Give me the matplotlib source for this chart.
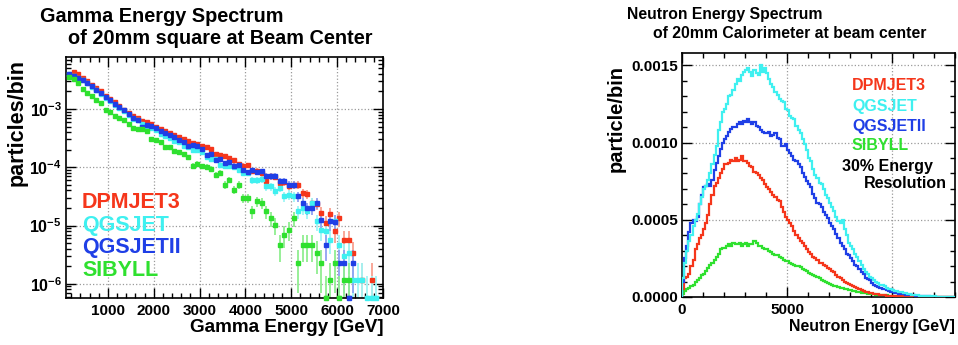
import numpy as np
import matplotlib
matplotlib.use("Agg")
import matplotlib.pyplot as plt
from matplotlib.ticker import FixedLocator, MultipleLocator, FixedFormatter

plt.rcParams['font.family'] = ['Liberation Sans', 'DejaVu Sans']
plt.rcParams['font.weight'] = 'bold'
plt.rcParams['mathtext.fontset'] = 'custom'
plt.rcParams['mathtext.rm'] = 'Liberation Sans:bold'
plt.rcParams['mathtext.bf'] = 'Liberation Sans:bold'

nan = np.nan
BOT = 5.7e-7   # bins drawn on the bottom frame

modelos = ['DPMJET3', 'QGSJET', 'QGSJETII', 'SIBYLL']
colores = ['#f5361b', '#3ff0f0', '#1f3fe6', '#2fe02f']
colores_err = ['#f9a090', '#a0f6f6', '#90a0f2', '#90ee90']

# ---- gamma spectrum (100 GeV bins, centres 150 .. 6850) ----
e_gamma = list(range(150, 6900, 100))

gamma_dpmjet3 = [nan, 4.27e-3, 3.94e-3, 3.45e-3, 2.99e-3, 2.62e-3, 2.30e-3, 2.01e-3, 1.69e-3, 1.49e-3,
                 1.30e-3, 1.11e-3, 9.74e-4, 8.54e-4, 7.49e-4, 7.00e-4, 6.31e-4, 5.90e-4, 5.52e-4, 4.91e-4,
                 4.54e-4, 4.13e-4, 3.92e-4, 3.62e-4, 3.31e-4, 3.05e-4, 2.82e-4, 2.61e-4, 2.54e-4, 2.29e-4,
                 2.23e-4, 2.08e-4, 1.71e-4, 1.60e-4, 1.54e-4, 1.44e-4, 1.31e-4, 1.14e-4, 1.06e-4, 1.09e-4,
                 8.51e-5, 8.73e-5, 7.96e-5, 5.73e-5, 6.98e-5, 6.79e-5, 5.36e-5, 5.51e-5, 4.70e-5, 5.02e-5,
                 5.02e-5, 3.56e-5, 3.52e-5, 2.43e-5, 2.37e-5, 1.64e-5, 1.10e-5, 1.60e-5, 7.93e-6, 1.34e-5,
                 5.56e-6, 5.56e-6, 3.37e-6, nan, 1.14e-6, nan, 1.14e-6, nan]
gamma_qgsjet = [3.99e-3, 3.73e-3, 3.41e-3, 3.10e-3, 2.80e-3, 2.36e-3, 2.09e-3, 1.81e-3, 1.55e-3, 1.35e-3,
                1.19e-3, 1.04e-3, 9.12e-4, 8.00e-4, 6.73e-4, 6.39e-4, 5.60e-4, 5.17e-4, 4.72e-4, 4.42e-4,
                3.77e-4, 3.40e-4, 3.18e-4, 2.78e-4, 2.68e-4, 2.29e-4, 2.23e-4, 1.95e-4, 2.00e-4, 1.80e-4,
                1.50e-4, 1.38e-4, 1.38e-4, 1.11e-4, 1.04e-4, 1.04e-4, 1.01e-4, 9.08e-5, 7.96e-5, 7.96e-5,
                5.96e-5, 5.96e-5, 6.28e-5, 4.70e-5, 4.70e-5, 3.85e-5, 4.40e-5, 3.16e-5, 3.38e-5, 3.16e-5,
                1.75e-5, 2.00e-5, 1.75e-5, 2.43e-5, 1.18e-5, 8.47e-6, 7.93e-6, 5.70e-6, 1.18e-5, 4.56e-6,
                2.95e-6, 3.37e-6, 1.14e-6, 1.14e-6, 1.14e-6, BOT, BOT, BOT]
gamma_qgsjetii = [3.94e-3, 3.64e-3, 3.41e-3, 3.10e-3, 2.80e-3, 2.45e-3, 2.15e-3, 1.88e-3, 1.61e-3, 1.41e-3,
                  1.22e-3, 1.07e-3, 9.74e-4, 8.31e-4, 7.00e-4, 6.56e-4, 4.91e-4, 5.38e-4, 5.17e-4, 4.72e-4,
                  4.13e-4, 3.87e-4, 3.62e-4, 3.31e-4, 2.97e-4, 2.71e-4, 2.29e-4, 2.44e-4, 2.29e-4, 2.06e-4,
                  1.62e-4, 1.71e-4, 1.35e-4, 1.38e-4, 1.18e-4, 1.21e-4, 1.06e-4, 1.11e-4, 8.85e-5, 8.17e-5,
                  8.85e-5, 8.17e-5, 8.51e-5, 7.16e-5, 6.98e-5, 6.98e-5, 5.73e-5, 5.73e-5, 5.02e-5, 5.02e-5,
                  3.16e-5, 2.43e-5, 2.00e-5, 2.00e-5, 2.43e-5, 1.26e-5, 4.70e-6, 1.18e-5, 1.15e-5, 2.27e-6,
                  2.27e-6, BOT, 2.27e-6, nan, nan, nan, nan, nan]
gamma_sibyll = [3.54e-3, 3.27e-3, 2.80e-3, 2.21e-3, 1.88e-3, 1.65e-3, 1.45e-3, 1.27e-3, 9.74e-4, 8.77e-4,
                7.49e-4, 7.00e-4, 6.39e-4, 5.60e-4, 4.72e-4, 4.59e-4, 4.54e-4, 4.13e-4, 3.05e-4, 2.97e-4,
                2.75e-4, 2.20e-4, 2.20e-4, 1.87e-4, 1.83e-4, 1.69e-4, 1.50e-4, 1.06e-4, 1.15e-4, 1.04e-4,
                1.01e-4, 9.33e-5, 7.45e-5, 7.96e-5, 5.02e-5, 6.11e-5, 4.12e-5, 5.02e-5, 2.96e-5, 2.96e-5,
                1.75e-5, 2.60e-5, 2.43e-5, 1.75e-5, 1.34e-5, 1.03e-5, 4.56e-6, 6.95e-6, 8.47e-6, 1.34e-5,
                2.27e-6, 4.56e-6, 4.56e-6, 4.56e-6, 3.40e-6, 2.27e-6, BOT, 1.14e-6, 2.27e-6, BOT,
                1.14e-6, 1.14e-6, nan, nan, nan, nan, nan, nan]

# ---- neutron spectrum (100 GeV bins from 0 to 13000), units of 1e-5 ----
bordes_neutron = np.arange(0, 13100, 100)

neutron_dpmjet3 = [5, 12, 13, 15, 20, 24, 31, 34, 38, 40, 44, 48, 53, 60, 66, 72, 74, 77, 80, 83,
                   86, 86, 87, 89, 88, 90, 88, 89, 91, 88, 88, 87, 85, 84, 81, 80, 79, 77, 76, 73,
                   71, 70, 68, 66, 65, 63, 62, 58, 55, 52, 50, 48, 46, 43, 40, 38, 36, 35, 33, 31,
                   29, 28, 26, 25, 24, 22, 22, 21, 20, 19, 18, 17, 16, 14, 13, 12, 11, 10, 9, 8.5,
                   8, 6.8, 6.2, 5.8, 5, 4.5, 4, 3.4, 3, 2.7, 2.4, 2.2, 1.9, 1.7, 1.5, 1.3, 1.1, 0.9, 0.8, 0.7,
                   0.6, 0.5, 0.45, 0.4, 0.35, 0.3, 0.25, 0.2, 0.2, 0.15, 0.15, 0.1, 0.1, 0.1, 0.1, 0.1, 0.05, 0.05, 0.05, 0.05,
                   0.05, 0.05, 0.05, 0.05, 0.05, 0.0, 0.0, 0.0, 0.0, 0.0]
neutron_qgsjet = [12, 22, 30, 36, 40, 46, 50, 54, 60, 65, 70, 72, 76, 80, 86, 92, 98, 108, 113, 120,
                  122, 125, 130, 131, 134, 138, 141, 140, 144, 146, 147, 148, 146, 143, 147, 145, 144, 150, 146, 148,
                  145, 141, 138, 136, 133, 131, 128, 127, 126, 122, 121, 117, 116, 115, 111, 108, 106, 102, 99, 95,
                  90, 88, 83, 79, 77, 74, 73, 70, 66, 64, 61, 58, 56, 52, 49, 48, 50, 44, 40, 35,
                  33, 31, 28, 26, 23, 21, 18, 16, 15, 13, 12, 11, 9.5, 9, 8, 7.5, 7, 6, 5.5, 5,
                  4.5, 4, 3.6, 3.2, 3, 2.6, 2.3, 2, 1.8, 1.5, 1.3, 1.2, 1, 0.9, 0.8, 0.7, 0.6, 0.5, 0.45, 0.4,
                  0.35, 0.3, 0.3, 0.25, 0.2, 0.2, 0.2, 0.15, 0.1, 0.1]
neutron_qgsjetii = [10, 25, 33, 42, 48, 50, 49, 52, 60, 66, 71, 72, 73, 72, 76, 82, 87, 91, 96, 100,
                    102, 104, 107, 109, 110, 110, 112, 113, 112, 114, 113, 115, 113, 112, 113, 111, 110, 108, 107, 106,
                    106, 107, 104, 105, 106, 103, 102, 98, 98, 99, 95, 93, 91, 89, 88, 86, 84, 80, 78, 75,
                    73, 71, 67, 64, 61, 60, 58, 55, 53, 51, 48, 46, 44, 41, 38, 35, 33, 31, 28, 27,
                    25, 23, 21, 20, 18, 16, 15, 12, 11.5, 11, 9, 8, 7, 6.5, 6, 5.5, 5, 4.5, 4, 3.4,
                    3, 2.6, 2.3, 2.1, 1.9, 1.8, 1.6, 1.5, 1.3, 1.2, 1.1, 0.9, 0.8, 0.6, 0.5, 0.45, 0.4, 0.35, 0.3, 0.25,
                    0.2, 0.2, 0.15, 0.15, 0.1, 0.1, 0.1, 0.1, 0.05, 0.05]
neutron_sibyll = [2, 4, 5, 6, 7, 8, 10, 11, 12, 14, 15, 17, 19, 21, 22, 24, 26, 28, 31, 32,
                  32, 33, 34, 33, 35, 34, 34, 35, 33, 34, 35, 33, 34, 34, 36, 35, 33, 33, 32, 31,
                  31, 30, 29, 28, 27, 27, 26, 25, 24, 23, 23, 22, 21.5, 21, 20, 20, 19.5, 18, 17.5, 17,
                  15.5, 15, 14, 13.5, 13, 12, 11, 10.5, 9.5, 9, 8.5, 8, 7, 6.8, 6.5, 6, 5.8, 5.5, 5, 4.7,
                  4.3, 4, 3.6, 3.3, 3, 2.8, 2.6, 2.4, 2.2, 2, 1.9, 1.7, 1.6, 1.5, 1.4, 1.3, 1.1, 1.0, 0.9, 0.8,
                  0.7, 0.6, 0.55, 0.5, 0.45, 0.4, 0.35, 0.3, 0.3, 0.25, 0.2, 0.2, 0.15, 0.15, 0.1, 0.1, 0.1, 0.05, 0.05, 0.05,
                  0.05, 0.05, 0.05, 0.0, 0.0, 0.0, 0.0, 0.0, 0.0, 0.0]

UNIDAD_CUENTA = 1.1e-6   # weight of one entry in the gamma histogram


def estilo_root(ax):
    ax.tick_params(which='both', direction='in', top=True, right=True, width=1.0)
    ax.tick_params(which='major', length=7, labelsize=11, pad=4)
    ax.tick_params(which='minor', length=3.5)
    for s in ax.spines.values():
        s.set_linewidth(1.2)
    for lab in ax.get_xticklabels() + ax.get_yticklabels():
        lab.set_fontweight('bold')


fig = plt.figure(figsize=(9.58, 3.45), dpi=100)
W, H = 958.0, 345.0

# ---------------- left: gamma ----------------
ax1 = fig.add_axes([66 / W, 1 - 298 / H, 317 / W, 241 / H])
ax1.set_yscale('log')
series_gamma = [gamma_dpmjet3, gamma_qgsjet, gamma_qgsjetii, gamma_sibyll]
x = np.array(e_gamma, dtype=float)
for datos, c, ce in zip(series_gamma, colores, colores_err):
    y = np.array(datos, dtype=float)
    ok = ~np.isnan(y)
    err = np.sqrt(y[ok] * UNIDAD_CUENTA)
    lo = np.minimum(err, y[ok] * 0.9999)
    ax1.errorbar(x[ok], y[ok], yerr=[lo, err], fmt='none', ecolor=ce, elinewidth=1.3, capsize=0, zorder=2)
    ax1.plot(x[ok], y[ok], 's', ms=3.2, color=c, mec=c, zorder=3)
    abajo = y == BOT
    ax1.plot(x[abajo], y[abajo], 's', ms=3.2, color=c, mec=c, zorder=4, clip_on=False)

ax1.set_xlim(85, 7000)
ax1.set_ylim(5.7e-7, 7.8e-3)
ax1.xaxis.set_major_locator(FixedLocator([1000, 2000, 3000, 4000, 5000, 6000, 7000]))
ax1.xaxis.set_minor_locator(MultipleLocator(200))
ax1.yaxis.set_major_locator(FixedLocator([1e-6, 1e-5, 1e-4, 1e-3]))
ax1.yaxis.set_major_formatter(FixedFormatter([r'$10^{-6}$', r'$10^{-5}$', r'$10^{-4}$', r'$10^{-3}$']))
ax1.yaxis.set_minor_locator(FixedLocator([m * 10.0 ** k for k in range(-7, -2) for m in range(2, 10)]))
ax1.yaxis.set_minor_formatter(FixedFormatter([]))
for xv in [1000, 2000, 3000, 4000, 5000, 6000]:
    ax1.axvline(xv, color='#9a9a9a', ls=':', lw=0.9, zorder=1)
for yv in [1e-6, 1e-5, 1e-4, 1e-3]:
    ax1.axhline(yv, color='#9a9a9a', ls=':', lw=0.9, zorder=1)
estilo_root(ax1)
ax1.tick_params(axis='y', labelsize=11.5, pad=3)

for i, (nombre, c) in enumerate(zip(modelos, colores)):
    fig.text(82 / W, 1 - (203 + 22.4 * i) / H, nombre, color=c, fontsize=15.5,
             fontweight='bold', va='center', ha='left')

fig.text(40 / W, 1 - 17 / H, 'Gamma Energy Spectrum', fontsize=14.3, fontweight='bold', va='center')
fig.text(68 / W, 1 - 38 / H, 'of 20mm square at Beam Center', fontsize=14.3, fontweight='bold', va='center')
fig.text(17 / W, 1 - 122 / H, 'particles/bin', fontsize=15.5, fontweight='bold', rotation=90,
         va='center', ha='center')
fig.text(384 / W, 1 - 328 / H, 'Gamma Energy [GeV]', fontsize=13.6, fontweight='bold',
         va='center', ha='right')

# ---------------- right: neutron ----------------
ax2 = fig.add_axes([682 / W, 1 - 297 / H, 273 / W, 244 / H])
series_neutron = [neutron_dpmjet3, neutron_qgsjet, neutron_qgsjetii, neutron_sibyll]
orden = [3, 0, 2, 1]
for k in orden:
    vals = np.array(series_neutron[k], dtype=float) * 1e-5
    ax2.stairs(vals, bordes_neutron, color=colores[k], lw=1.6, zorder=3)

ax2.set_xlim(0, 13000)
ax2.set_ylim(0, 0.00158)
ax2.xaxis.set_major_locator(FixedLocator([0, 5000, 10000]))
ax2.xaxis.set_minor_locator(MultipleLocator(1000))
ax2.yaxis.set_major_locator(FixedLocator([0, 0.0005, 0.0010, 0.0015]))
ax2.yaxis.set_major_formatter(FixedFormatter(['0.0000', '0.0005', '0.0010', '0.0015']))
ax2.yaxis.set_minor_locator(MultipleLocator(0.0001))
for xv in [5000, 10000]:
    ax2.axvline(xv, color='#9a9a9a', ls=':', lw=0.9, zorder=1)
for yv in [0.0005, 0.0010, 0.0015]:
    ax2.axhline(yv, color='#9a9a9a', ls=':', lw=0.9, zorder=1)
estilo_root(ax2)
ax2.tick_params(axis='y', pad=3)

ys_leyenda = [86, 107, 127, 146]
for nombre, c, yp in zip(modelos, colores, ys_leyenda):
    fig.text(852 / W, 1 - yp / H, nombre, color=c, fontsize=11.5, fontweight='bold', va='center')
fig.text(842 / W, 1 - 167 / H, '30% Energy', fontsize=11.5, fontweight='bold', va='center')
fig.text(864 / W, 1 - 184 / H, 'Resolution', fontsize=11.5, fontweight='bold', va='center')

fig.text(627 / W, 1 - 15 / H, 'Neutron Energy Spectrum', fontsize=11.3, fontweight='bold', va='center')
fig.text(653 / W, 1 - 33 / H, 'of 20mm Calorimeter at beam center', fontsize=11.3, fontweight='bold',
         va='center')
fig.text(616 / W, 1 - 118 / H, 'particle/bin', fontsize=14.5, fontweight='bold', rotation=90,
         va='center', ha='center')
fig.text(955 / W, 1 - 326 / H, 'Neutron Energy [GeV]', fontsize=11.4, fontweight='bold',
         va='center', ha='right')

fig.savefig('out.png', dpi=100)
